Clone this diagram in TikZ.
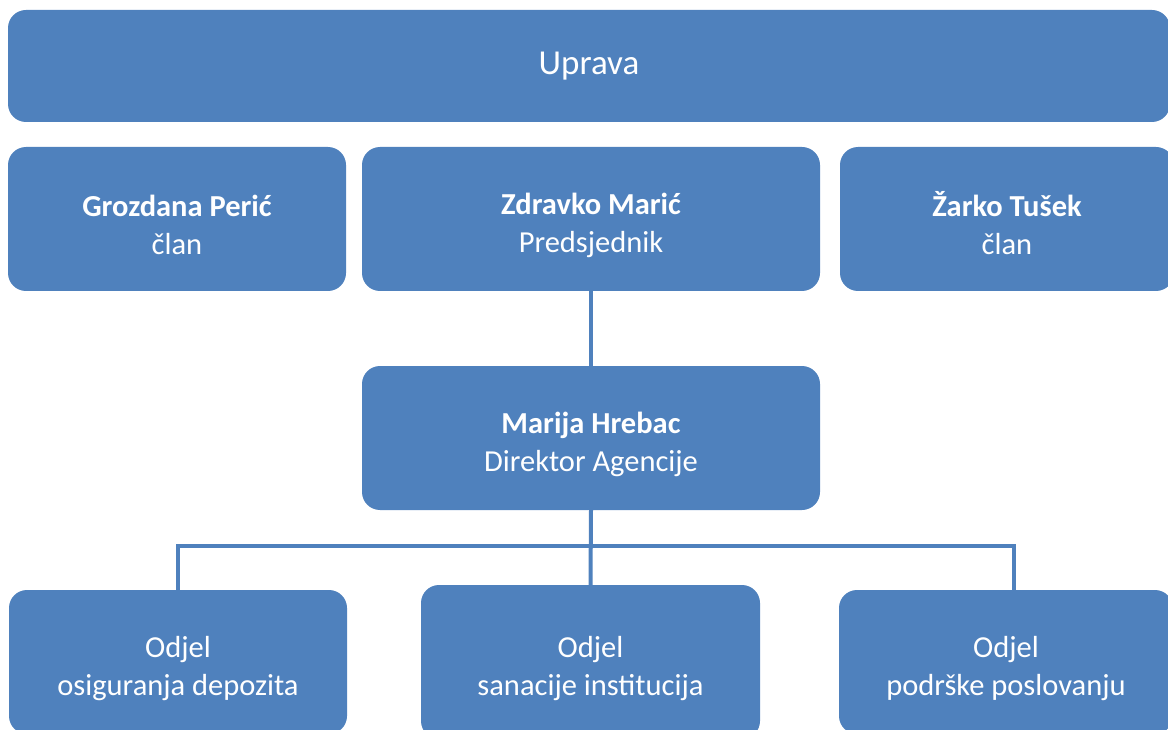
\documentclass[tikz,border=0pt]{standalone}
\usepackage{fontspec}
\setmainfont{Carlito}
\definecolor{orgblue}{HTML}{4F81BD}
\newcommand\gore{\rule{0pt}{34pt}}
\tikzset{orgbox/.style={rectangle,rounded corners=18pt,fill=orgblue,text=white,align=center,inner sep=0pt,font=\fontsize{30.5}{38}\selectfont},
	orgline/.style={draw=orgblue,line width=4pt}}
\begin{document}
\begin{tikzpicture}[x=1pt,y=-1pt]
		\useasboundingbox (0,0) rectangle (1168,730);
		\begin{scope}
		\clip (0,0) rectangle (1168,730);
		\node[orgbox,minimum width=1162pt,minimum height=112pt,font=\fontsize{35}{42}\selectfont] (uprava) at (589,66) {Uprava};
		\node[orgbox,minimum width=338pt,minimum height=144pt] (peric) at (177,219) {\gore\textbf{Grozdana Perić}\\član};
		\node[orgbox,minimum width=458pt,minimum height=144pt] (maric) at (591,219) {\gore\textbf{Zdravko Marić}\\Predsjednik};
		\node[orgbox,minimum width=334pt,minimum height=144pt] (tusek) at (1007,219) {\gore\textbf{Žarko Tušek}\\član};
		\node[orgbox,minimum width=458pt,minimum height=144pt] (hrebac) at (591,438) {\gore\textbf{Marija Hrebac}\\Direktor Agencije};
		\node[orgbox,minimum width=338pt,minimum height=144pt] (osiguranje) at (178,662) {\gore Odjel\\osiguranja depozita};
		\node[orgbox,minimum width=339pt,minimum height=154pt] (sanacija) at (590.5,662) {\gore Odjel\\sanacije institucija};
		\node[orgbox,minimum width=334pt,minimum height=144pt] (podrska) at (1006,662) {\gore Odjel\\podrške poslovanju};
		\end{scope}
		\coordinate (lijevo) at (178,546);
		\coordinate (desno) at (1014,546);
		\draw[orgline] (maric.south) -- (hrebac.north);
		\draw[orgline] (hrebac.south) -- (sanacija.north);
		\draw[orgline] (lijevo |- osiguranje.north) -- (lijevo) -- (desno) -- (desno |- podrska.north);
\end{tikzpicture}
\end{document}
